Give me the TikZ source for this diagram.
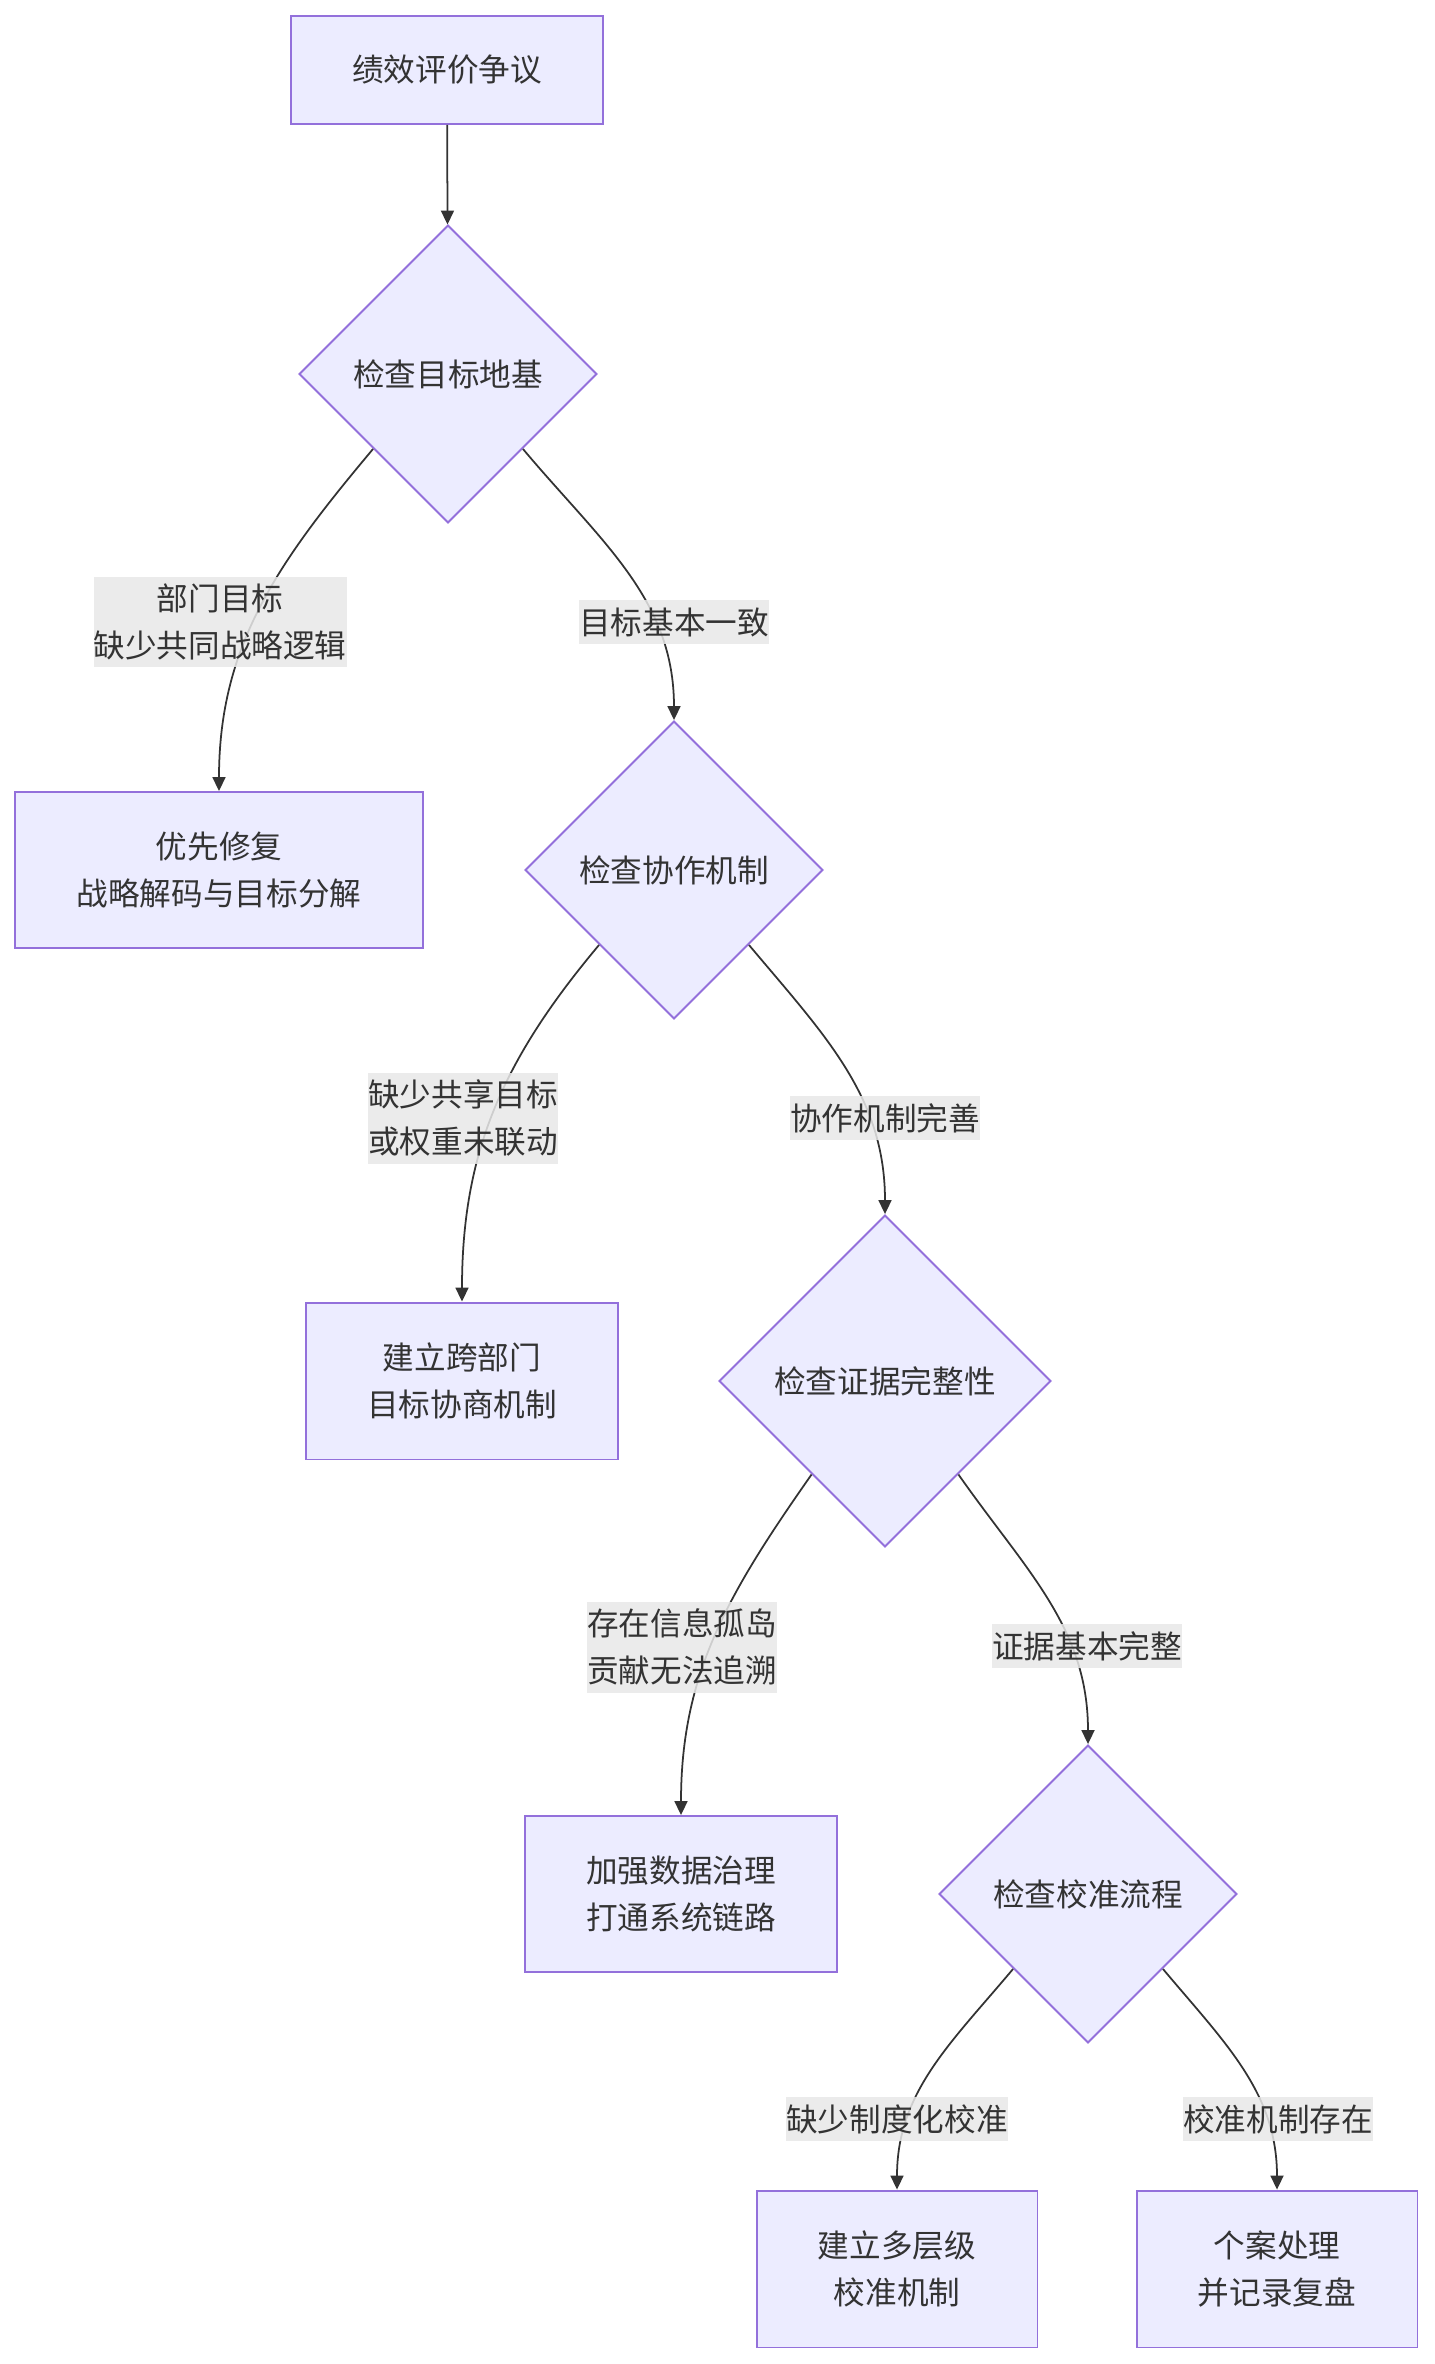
\documentclass[tikz,border=0pt]{standalone}
\usepackage{fontspec}
\newfontfamily\cjk{Noto Sans CJK SC}
\usepackage{tikz}
\usetikzlibrary{arrows.meta, shapes.geometric, calc}
\definecolor{boxfill}{HTML}{ECECFF}
\definecolor{boxline}{HTML}{9370DB}
\definecolor{ink}{HTML}{333333}
\definecolor{lblfill}{HTML}{E8E8E8}
\tikzstyle{block} = [rectangle, draw=boxline, fill=boxfill, line width=1.1pt,
  text=ink, align=center, inner sep=0pt, font=\cjk\fontsize{18pt}{27pt}\selectfont]
\tikzstyle{check} = [diamond, aspect=1, draw=boxline, fill=boxfill, line width=1.1pt,
  text=ink, inner sep=0pt, minimum width=5.96cm, minimum height=5.96cm,
  font=\cjk\fontsize{18pt}{27pt}\selectfont]
\tikzstyle{lbl} = [fill=lblfill, fill opacity=0.85, text opacity=1, text=ink, align=center,
  inner xsep=0pt, inner ysep=0.14cm, font=\cjk\fontsize{18pt}{27pt}\selectfont]
\tikzstyle{arrow} = [line width=1pt, draw=ink, -{Triangle[length=0.28cm, width=0.26cm]}]

\begin{document}
\begin{tikzpicture}[x=0.02cm, y=0.02cm]
    \useasboundingbox (0,0) rectangle (1434,-2364);
    \node[block, minimum width=6.24cm, minimum height=2.16cm] (dispute) at (447,-70) {绩效评价争议};
    \node[check] (goals) at (448,-374) {检查目标地基};
    \node[block, minimum width=8.18cm, minimum height=3.12cm] (decode) at (219,-870) {优先修复\\战略解码与目标分解};
    \node[check] (collab) at (674,-870) {检查协作机制};
    \node[block, minimum width=6.24cm, minimum height=3.14cm] (negot) at (462,-1381) {建立跨部门\\目标协商机制};
    \node[check, minimum width=6.64cm, minimum height=6.64cm] (evid) at (885,-1381) {检查证据完整性};
    \node[block, minimum width=6.24cm, minimum height=3.12cm] (data) at (681,-1894) {加强数据治理\\打通系统链路};
    \node[check] (calib) at (1088,-1894) {检查校准流程};
    \node[block, minimum width=5.62cm, minimum height=3.14cm] (multi) at (897,-2269) {建立多层级\\校准机制};
    \node[block, minimum width=5.62cm, minimum height=3.14cm] (case) at (1277,-2269) {个案处理\\并记录复盘};
    \coordinate (evidl) at ($(evid.south west)!0.12!(evid.south)$);
    \coordinate (evidr) at ($(evid.south east)!0.12!(evid.south)$);
    \draw[arrow] (dispute) -- (goals);
    \draw[arrow] (goals.south west) to[out=-130, in=90] (decode.north);
    \draw[arrow] (goals.south east) to[out=-50, in=90] (collab.north);
    \draw[arrow] (collab.south west) to[out=-130, in=90] (negot.north);
    \draw[arrow] (collab.south east) to[out=-50, in=90] (evid.north);
    \draw[arrow] (evidl) to[out=-125, in=90] (data.north);
    \draw[arrow] (evidr) to[out=-55, in=90] (calib.north);
    \draw[arrow] (calib.south west) to[out=-130, in=90] (multi.north);
    \draw[arrow] (calib.south east) to[out=-50, in=90] (case.north);
    \node[lbl] (l1) at (220,-622) {部门目标\\缺少共同战略逻辑};
    \node[lbl] (l2) at (674,-622) {目标基本一致};
    \node[lbl] (l3) at (463,-1118) {缺少共享目标\\或权重未联动};
    \node[lbl] (l4) at (885,-1118) {协作机制完善};
    \node[lbl] (l5) at (682,-1647) {存在信息孤岛\\贡献无法追溯};
    \node[lbl] (l6) at (1087,-1646) {证据基本完整};
    \node[lbl] (l7) at (897,-2119) {缺少制度化校准};
    \node[lbl] (l8) at (1278,-2119) {校准机制存在};
  \end{tikzpicture}
\end{document}
